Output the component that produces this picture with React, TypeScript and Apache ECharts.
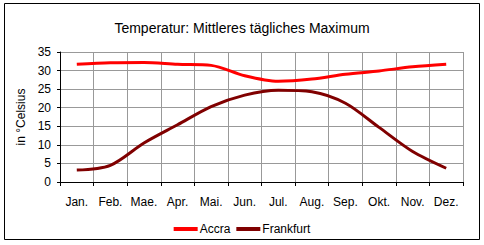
import React, { useEffect, useRef } from "react";
import * as echarts from "echarts";

const months = ["Jan.", "Feb.", "Mae.", "Apr.", "Mai.", "Jun.", "Jul.", "Aug.", "Sep.", "Okt.", "Nov.", "Dez."];
const accra = [31.7, 32.1, 32.2, 31.7, 31.4, 28.6, 27.1, 27.7, 29.0, 29.9, 31.0, 31.7];
const frankfurt = [3.2, 4.5, 10.5, 15.4, 20.3, 23.4, 24.7, 24.3, 21.2, 14.7, 8.2, 3.7];
const seriesNames = ["Accra", "Frankfurt"];
const titleText = "Temperatur: Mittleres tägliches Maximum";
const yAxisName = "in °Celsius";

const FONT = "'Liberation Sans', Arial, sans-serif";

export default function App() {
  const ref = useRef<HTMLDivElement>(null);
  useEffect(() => {
    if (!ref.current) return;
    const chart = echarts.init(ref.current, null, { renderer: "svg" });
    chart.setOption({
      animation: false,
      backgroundColor: "#ffffff",
      textStyle: { fontFamily: FONT, color: "#000" },
      title: {
        text: titleText,
        left: "center",
        top: 16,
        textStyle: { fontFamily: FONT, fontSize: 14, fontWeight: "normal", color: "#000" },
      },
      legend: {
        data: seriesNames,
        top: 218,
        left: "center",
        icon: "rect",
        itemWidth: 24,
        itemHeight: 4,
        itemGap: 6,
        textStyle: { fontFamily: FONT, fontSize: 12, color: "#000", padding: [0, 0, 0, -3] },
      },
      graphic: [
        {
          type: "rect",
          shape: { x: 4.5, y: 3.5, width: 475, height: 236 },
          style: { fill: "none", stroke: "#000", lineWidth: 1 },
          silent: true,
        },
      ],
      grid: { left: 60, right: 21, top: 52, bottom: 63, containLabel: false },
      xAxis: {
        type: "category",
        data: months,
        boundaryGap: true,
        axisLine: { show: true, lineStyle: { color: "#000", width: 1 } },
        axisTick: { show: true, length: 4, lineStyle: { color: "#000" }, alignWithLabel: false },
        axisLabel: { color: "#000", fontFamily: FONT, fontSize: 12, margin: 14, interval: 0 },
        splitLine: { show: true, lineStyle: { color: "#999", width: 1 } },
      },
      yAxis: {
        type: "value",
        min: 0,
        max: 35,
        interval: 5,
        name: yAxisName,
        nameLocation: "middle",
        nameRotate: 90,
        nameGap: 32,
        nameTextStyle: { color: "#000", fontFamily: FONT, fontSize: 12 },
        axisLine: { show: true, lineStyle: { color: "#000", width: 1 } },
        axisTick: { show: true, length: 3, lineStyle: { color: "#000" } },
        axisLabel: { color: "#000", fontFamily: FONT, fontSize: 12, margin: 9 },
        splitLine: { show: true, lineStyle: { color: "#999", width: 1 } },
      },
      series: [
        {
          name: seriesNames[0],
          type: "line",
          data: accra,
          smooth: 0.3,
          showSymbol: false,
          symbol: "none",
          lineStyle: { color: "#ff0000", width: 3 },
          itemStyle: { color: "#ff0000" },
        },
        {
          name: seriesNames[1],
          type: "line",
          data: frankfurt,
          smooth: 0.3,
          showSymbol: false,
          symbol: "none",
          lineStyle: { color: "#800000", width: 3 },
          itemStyle: { color: "#800000" },
        },
      ],
    });
    return () => chart.dispose();
  }, []);
  return (
    <div
      ref={ref}
      style={{ position: "fixed", left: 0, top: 0, width: 484, height: 245 }}
    />
  );
}
